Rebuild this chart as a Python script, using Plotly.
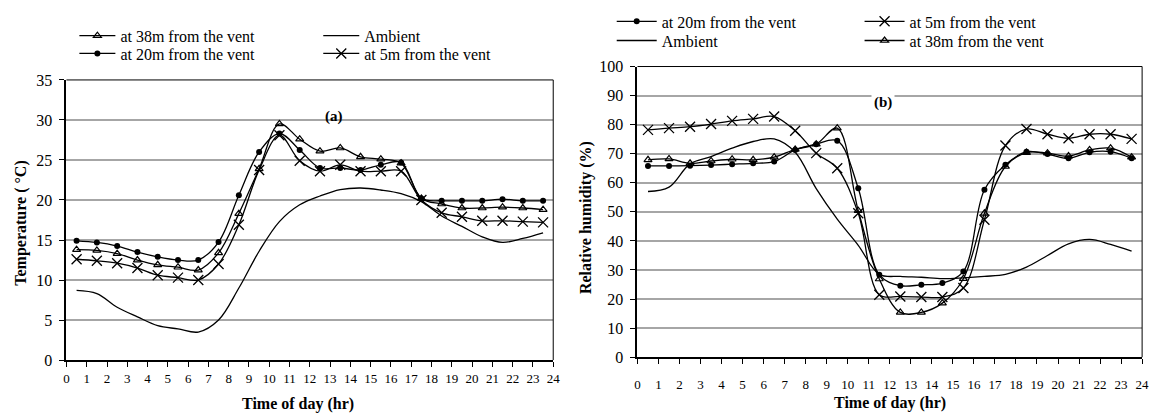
import plotly.graph_objects as go

hours = [h + 0.5 for h in range(24)]

# Panel (a): temperature (deg C)
temp_38m = [13.8, 13.7, 13.3, 12.5, 11.9, 11.6, 11.25, 13.4, 18.3, 23.9, 29.5, 27.6,
            26.1, 26.5, 25.4, 25.1, 24.6, 20.2, 19.5, 19.0, 19.0, 19.1, 19.0, 18.8]
temp_20m = [14.9, 14.7, 14.25, 13.5, 12.9, 12.5, 12.5, 14.75, 20.6, 26.0, 28.3, 26.25,
            24.0, 24.0, 23.75, 24.4, 24.7, 20.2, 19.9, 19.9, 19.9, 20.1, 19.9, 19.9]
temp_5m = [12.6, 12.4, 12.1, 11.5, 10.6, 10.3, 10.0, 12.0, 16.9, 23.75, 28.1, 24.9,
           23.6, 24.4, 23.6, 23.6, 23.6, 20.0, 18.4, 17.9, 17.4, 17.4, 17.3, 17.2]
temp_amb = [8.7, 8.3, 6.6, 5.4, 4.3, 3.9, 3.5, 5.0, 9.0, 13.6, 17.3, 19.4,
            20.5, 21.3, 21.5, 21.25, 20.8, 19.8, 18.0, 16.7, 15.4, 14.7, 15.2, 15.9]

# Panel (b): relative humidity (%)
rh_20m = [65.8, 65.8, 65.9, 66.1, 66.4, 66.7, 67.3, 71.3, 73.3, 74.5, 58.1, 28.4,
          24.6, 24.9, 25.5, 29.5, 57.6, 66.2, 70.7, 69.9, 68.4, 70.5, 70.7, 68.4]
rh_5m = [78.2, 78.8, 79.3, 80.2, 81.3, 82.0, 82.8, 77.9, 70.2, 65.0, 49.5, 21.5,
         20.9, 20.7, 20.7, 23.8, 47.3, 72.8, 78.5, 76.7, 75.3, 76.7, 76.7, 75.1]
rh_38m = [67.9, 68.2, 66.7, 67.5, 68.1, 67.9, 68.8, 71.5, 73.3, 78.8, 50.4, 26.9,
          15.4, 15.4, 18.6, 27.0, 49.5, 65.6, 70.4, 70.2, 69.2, 71.3, 71.9, 68.8]
rh_amb = [57.0, 58.5, 66.5, 69.0, 71.9, 74.2, 75.1, 70.5, 58.0, 47.5, 38.5, 28.5,
          27.8, 27.5, 27.0, 27.3, 27.8, 28.5, 31.0, 35.0, 39.0, 40.5, 38.8, 36.5]

x_ticks = list(range(25))
temp_ticks = list(range(0, 36, 5))
rh_ticks = list(range(0, 101, 10))

W, H = 1162, 418
FONT = "Liberation Serif"

fig = go.Figure()

def px(x):
    return x / W

def py(y):
    return 1 - y / H

line_style = dict(color="black", width=1.3, shape="spline", smoothing=1.0)
tri = dict(symbol="triangle-up-open", size=7, color="black", line=dict(width=1.2, color="black"))
dot = dict(symbol="circle", size=6, color="black")
cross = dict(symbol="x-thin-open", size=10, color="black", line=dict(width=1.3, color="black"))

# Panel (a)
fig.add_trace(go.Scatter(x=hours, y=temp_38m, name="at 38m from the vent", mode="lines+markers",
                         line=line_style, marker=tri, xaxis="x", yaxis="y", legend="legend"))
fig.add_trace(go.Scatter(x=hours, y=temp_20m, name="at 20m from the vent", mode="lines+markers",
                         line=line_style, marker=dot, xaxis="x", yaxis="y", legend="legend2"))
fig.add_trace(go.Scatter(x=hours, y=temp_amb, name="Ambient", mode="lines",
                         line=line_style, xaxis="x", yaxis="y", legend="legend3"))
fig.add_trace(go.Scatter(x=hours, y=temp_5m, name="at 5m from the vent", mode="lines+markers",
                         line=line_style, marker=cross, xaxis="x", yaxis="y", legend="legend4"))

# Panel (b)
fig.add_trace(go.Scatter(x=hours, y=rh_20m, name="at 20m from the vent", mode="lines+markers",
                         line=line_style, marker=dot, xaxis="x2", yaxis="y2", legend="legend5"))
fig.add_trace(go.Scatter(x=hours, y=rh_amb, name="Ambient", mode="lines",
                         line=line_style, xaxis="x2", yaxis="y2", legend="legend6"))
fig.add_trace(go.Scatter(x=hours, y=rh_5m, name="at 5m from the vent", mode="lines+markers",
                         line=line_style, marker=cross, xaxis="x2", yaxis="y2", legend="legend7"))
fig.add_trace(go.Scatter(x=hours, y=rh_38m, name="at 38m from the vent", mode="lines+markers",
                         line=line_style, marker=tri, xaxis="x2", yaxis="y2", legend="legend8"))

# Plot areas in pixels
A = dict(l=64, r=555, t=75, b=367)
B = dict(l=640, r=1149, t=61, b=364)

def xaxis_style(standoff):
    return dict(showline=True, linecolor="black", linewidth=2, mirror=False,
                ticks="outside", ticklen=5, tickwidth=1, tickcolor="black",
                ticklabelstandoff=standoff,
                tickfont=dict(family=FONT, size=13, color="black"), zeroline=False,
                range=[0, 24], tickvals=x_ticks, showgrid=False)

def yaxis_style():
    return dict(showline=True, linecolor="black", linewidth=2, mirror=False,
                ticks="outside", ticklen=5, tickwidth=1, tickcolor="black",
                ticklabelstandoff=4,
                tickfont=dict(family=FONT, size=16, color="black"), zeroline=False,
                showgrid=True, gridcolor="#a6a6a6", gridwidth=1.5)

fig.update_layout(
    width=W, height=H, margin=dict(l=0, r=0, t=0, b=0),
    paper_bgcolor="white", plot_bgcolor="white",
    font=dict(family=FONT, color="black"),
    xaxis=dict(domain=[px(A["l"]), px(A["r"])], anchor="y", **xaxis_style(0)),
    yaxis=dict(domain=[py(A["b"]), py(A["t"])], range=[0, 35], tickvals=temp_ticks, anchor="x",
               **yaxis_style()),
    xaxis2=dict(domain=[px(B["l"]), px(B["r"])], anchor="y2", **xaxis_style(9)),
    yaxis2=dict(domain=[py(B["b"]), py(B["t"])], range=[0, 100], tickvals=rh_ticks, anchor="x2",
                **yaxis_style()),
    showlegend=True,
)

leg_common = dict(orientation="v", bgcolor="rgba(0,0,0,0)", borderwidth=0,
                  font=dict(family=FONT, size=16, color="black"),
                  xanchor="left", yanchor="middle", tracegroupgap=0)
fig.update_layout(
    legend=dict(x=px(72), y=py(29), itemwidth=36, **leg_common),
    legend2=dict(x=px(72), y=py(47.5), itemwidth=36, **leg_common),
    legend3=dict(x=px(318), y=py(29), itemwidth=36, **leg_common),
    legend4=dict(x=px(318), y=py(47.5), itemwidth=36, **leg_common),
    legend5=dict(x=px(614), y=py(14), itemwidth=40, **leg_common),
    legend6=dict(x=px(614), y=py(34), itemwidth=40, **leg_common),
    legend7=dict(x=px(864), y=py(14), itemwidth=40, **leg_common),
    legend8=dict(x=px(864), y=py(34), itemwidth=40, **leg_common),
)

# Border lines (top and right) of each plot area
for P in (A, B):
    fig.add_shape(type="line", xref="paper", yref="paper", x0=px(P["l"]), x1=px(P["r"]),
                  y0=py(P["t"]), y1=py(P["t"]), line=dict(color="black", width=1))
    fig.add_shape(type="line", xref="paper", yref="paper", x0=px(P["r"]), x1=px(P["r"]),
                  y0=py(P["t"]), y1=py(P["b"]), line=dict(color="black", width=1))

title_font = dict(family=FONT, size=16, color="black")

# Y-axis titles
fig.add_annotation(text="<b>Temperature ( °C)</b>", xref="paper", yref="paper",
                   x=px(18), y=py(224), textangle=-90, showarrow=False, font=title_font,
                   xanchor="center", yanchor="middle")
fig.add_annotation(text="<b>Relative humidity (%)</b>", xref="paper", yref="paper",
                   x=px(588), y=py(218), textangle=-90, showarrow=False, font=title_font,
                   xanchor="center", yanchor="middle")

# X-axis titles
fig.add_annotation(text="<b>Time of day (hr)</b>", xref="paper", yref="paper",
                   x=px(298), y=py(413), showarrow=False, font=title_font,
                   xanchor="center", yanchor="middle")
fig.add_annotation(text="<b>Time of day (hr)</b>", xref="paper", yref="paper",
                   x=px((B["l"] + B["r"]) / 2), y=py(412), showarrow=False, font=title_font,
                   xanchor="center", yanchor="middle")

# Panel labels
fig.add_annotation(text="<b>(a)</b>", xref="paper", yref="paper", x=px(323), y=py(102),
                   showarrow=False, font=dict(family=FONT, size=15))
fig.add_annotation(text="<b>(b)</b>", xref="paper", yref="paper", x=px(900), y=py(87),
                   showarrow=False, font=dict(family=FONT, size=15), bgcolor="white",
                   borderpad=2)

fig.write_html("out.html")
